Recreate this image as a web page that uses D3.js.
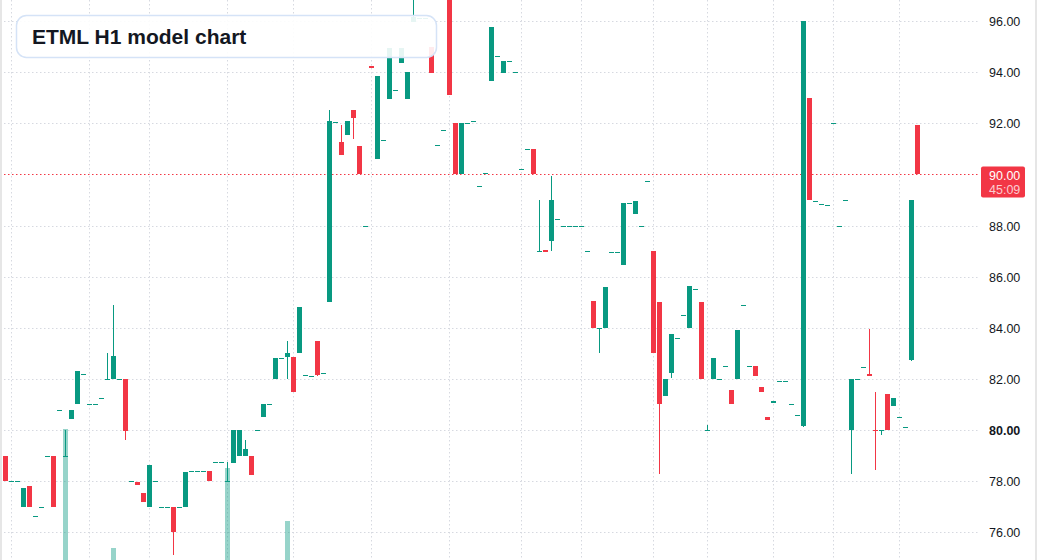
<!DOCTYPE html>
<html>
<head>
<meta charset="utf-8">
<script src="https://cdn.jsdelivr.net/npm/d3@7/dist/d3.min.js"></script>
<style>
  html, body { margin: 0; padding: 0; background: #ffffff; }
  svg { display: block; }
</style>
</head>
<body>
<svg id="chart" width="1037" height="560"></svg>
<script>
// ---------- DATA ----------
const title = "ETML H1 model chart";
const opens  = [79,78,78,77,77.8,76.65,77,79,79,80.8, 79,80.45,81,82.2,81,81,81.25,82,82,82,
  82,78,77.95,77.55,77,78,77,77,77,77, 77,78.4,78.4,78.4,78.4,78.75,78.75,78,78.7,79,
  79,79,80,80.5,81,82,82.8,82.85,82.85,83, 82.15,82.1,83.5,82.25,85,92.05,91.25,91.55,92.5,91.1,
  88,94.25,90.6,91.35,92.95,93.3,94.35,92.95,95.95,96.1, 96.1,95,91.15,91.75,97.2,92,90,92,92.1,89.55,
  90.05,93.65,94.65,93.95,94.45,94,90.2,91,91,87, 87.05,87.4,88.25,88,88,88,88,87,85.05,84,
  84,86.95,86.95,86.45,88.9,88.45,88,89.75,87,85, 81.35,82.25,83.6,84.5,84,85.5,85,80,82,82,
  82.5,81.55,82,84.9,82.5,82.5,81.7,80.5,81.05,81.9, 81.9,81,80.6,80.15,93,88.95,88.85,88.8,92,88,
  89,80,82,82.45,82.2,80,80,81.4,80.95,80.5, 80.1,82.75,91.95];
const highs  = [79,78,78,77.75,77.8,76.65,77,79,79,80.8, 80,80.8,82.3,82.2,81,81,81.25,83,84.9,82,
  82,78,77.95,77.55,78.65,78,77,77,77,77, 78.35,78.4,78.4,78.4,78.4,78.75,78.75,78.75,80,80,
  79.6,79,80,81,81,82.8,82.8,83.5,82.85,84.8, 82.15,82.1,83.5,82.25,92.5,92.05,91.95,92.1,92.5,91.1,
  88,94.25,93.85,91.35,94.95,93.3,94.95,94,97.2,96.1, 96.1,95,91.15,91.75,97.2,92,92,92,92.1,89.55,
  90.05,95.75,94.65,94.45,94.45,94,90.2,91,91,89, 87.05,89.95,88.25,88,88,88,88,87,85.05,84,
  85.6,86.95,86.95,88.9,88.9,88.95,88,89.75,87,85, 82,83.75,83.6,84.5,85.65,85.5,85,80.2,82.8,82,
  82.5,81.55,83.9,84.9,82.5,82.5,81.7,80.5,81.15,81.9, 81.9,81,80.6,96,93,88.95,88.85,88.8,92,88,
  89,82,82,82.45,83.95,81.5,80,81.4,81.25,80.5, 80.1,89,91.95];
const lows   = [78,78,78,77,77,76.65,77,79,77,80.8, 79,80.45,81,82.2,81,81,81.25,82,82,82,
  79.6,78,77.85,77.2,77,78,77,77,75.1,77, 77,78.4,78.4,78.4,78,78.75,78.75,78,78.7,79,
  79,78.25,80,80.5,81,82,82.8,82,81.5,83, 82.15,82.1,82.1,82.25,85,92.05,90.75,91.55,91.4,90,
  88,94.15,90.6,91.35,92.95,93.3,94.35,92.95,95.95,96.1, 96.1,93.95,91.15,91.75,93.1,90,90,92,92.1,89.55,
  90.05,93.65,94.65,93.95,94.45,94,90.2,91,90,87, 86.95,87,88.25,88,88,88,88,87,84,83,
  84,86.95,86.95,86.45,88.9,88.45,88,89.75,83,78.3, 81.35,82.05,83.6,84.5,84,85.5,82,80,82,82,
  82.5,81,82,84.9,82.5,82.1,81.5,80.4,81.05,81.9, 81.9,81,80.6,80.1,89,88.95,88.85,88.8,92,88,
  89,78.3,82,82.45,82.1,78.45,79.8,80,80.95,80.5, 80.1,82.7,90];
const closes = [78,78,78,77.75,77,76.65,77,79,77,80.8, 79,80.8,82.3,82.2,81,81,81.25,82,82.9,82,
  79.95,78,77.85,77.2,78.65,78,77,77,76,77, 78.35,78.4,78.4,78.4,78,78.75,78.75,78,80,80,
  79.25,78.25,80,81,81,82.8,82.8,83,81.5,84.8, 82.15,82.1,82.15,82.25,92.1,92.05,90.75,92.1,92.2,90,
  88,94.15,93.85,91.35,94.95,93.3,94.95,94,96.15,96.1, 96.1,93.95,91.15,91.75,93.1,90,92,92,92.1,89.55,
  90.05,95.75,94.65,94.45,94.45,94,90.2,91,90,87, 86.95,89,88.25,88,88,88,88,87,84,84,
  85.6,86.95,86.95,88.9,88.9,88.95,88,89.75,83,81, 82,83.75,83.6,84.5,85.65,85.5,82,80,82.8,82,
  82.5,81,83.9,84.9,82.5,82.1,81.5,80.4,81.15,81.9, 81.9,81,80.6,96,89,88.95,88.85,88.8,92,88,
  89,82,82,82.45,82.1,79.95,80,80,81.25,80.5, 80.1,89,90];
// volume only large enough to be visible on a few bars: [bar index, volume]
const volumes = [[10, 13100], [18, 1200], [37, 9200], [47, 3900]];
// time-boundary bars where vertical grid lines fall
const timeGridBars = [1,14,24,37,48,61,74,86,96,108,117,128,138,149];
const priceTicks = [76,78,80,82,84,86,88,90,92,94,96];
const lastPrice = 90.00;
const countdown = "45:09";

// ---------- STYLE ----------
const UP = "#089981", DOWN = "#f23645";
const W = 1037, H = 560, plotRight = 980;

const svg = d3.select("#chart");
const n = opens.length;
const x = d3.scaleLinear().domain([0, n - 1]).range([5.5, 5.5 + 6 * (n - 1)]);
const y = d3.scaleLinear().domain([76, 96]).range([532.3, 21]);
const yVol = d3.scaleLinear().domain([0, 20000]).range([H, H - 200]);
const crisp = v => Math.round(v) + 0.5;

svg.append("rect").attr("width", W).attr("height", H).attr("fill", "#fff");

// grid
const grid = svg.append("g").attr("stroke", "#d6d9e0").attr("stroke-width", 1).attr("stroke-dasharray", "1.5,2.5");
grid.selectAll("line.h").data(priceTicks.filter(v => v !== lastPrice)).join("line")
  .attr("x1", 0).attr("x2", plotRight)
  .attr("y1", d => crisp(y(d))).attr("y2", d => crisp(y(d)));
grid.selectAll("line.v").data(timeGridBars).join("line")
  .attr("x1", d => x(d)).attr("x2", d => x(d))
  .attr("y1", 0).attr("y2", H);

// volume
svg.append("g").selectAll("rect").data(volumes).join("rect")
  .attr("x", d => x(d[0]) - 2.5).attr("width", 5)
  .attr("y", d => yVol(d[1])).attr("height", d => H - yVol(d[1]))
  .attr("fill", UP).attr("fill-opacity", 0.42);

// last price line
svg.append("line")
  .attr("x1", 0).attr("x2", plotRight)
  .attr("y1", crisp(y(lastPrice))).attr("y2", crisp(y(lastPrice)))
  .attr("stroke", DOWN).attr("stroke-width", 1).attr("stroke-dasharray", "1.5,2.5");

// candles
const idx = d3.range(n);
const color = i => closes[i] >= opens[i] ? UP : DOWN;
const cg = svg.append("g");
cg.selectAll("rect.wick").data(idx).join("rect")
  .attr("class", "wick")
  .attr("x", i => x(i) - 0.5).attr("width", 1)
  .attr("y", i => Math.round(y(highs[i])))
  .attr("height", i => Math.max(0, Math.round(y(lows[i])) - Math.round(y(highs[i]))))
  .attr("fill", color);
cg.selectAll("rect.body").data(idx).join("rect")
  .attr("class", "body")
  .attr("x", i => x(i) - 2.5).attr("width", 5)
  .attr("y", i => Math.round(y(Math.max(opens[i], closes[i]))))
  .attr("height", i => Math.max(1, Math.round(y(Math.min(opens[i], closes[i]))) - Math.round(y(Math.max(opens[i], closes[i])))))
  .attr("fill", color);

// price axis
const axis = svg.append("g").attr("transform", "translate(989,0)")
  .call(d3.axisRight(y).tickValues(priceTicks.filter(v => v !== lastPrice)).tickSize(0).tickPadding(0).tickFormat(d => d.toFixed(2)));
axis.select(".domain").remove();
axis.selectAll("text")
  .attr("fill", "#131722").attr("font-family", "'Liberation Sans', Arial, sans-serif").attr("font-size", 12.5)
  .attr("text-anchor", "start").attr("dy", "0.36em")
  .attr("font-weight", d => d === 80 ? "bold" : "normal");

// last price label
const lp = svg.append("g");
lp.append("rect").attr("x", 981).attr("y", crisp(y(lastPrice)) - 8).attr("width", 44).attr("height", 31).attr("rx", 2).attr("fill", DOWN);
lp.append("text").attr("x", 989).attr("y", y(lastPrice) + 1).attr("dy", "0.36em")
  .attr("fill", "#fff").attr("font-family", "'Liberation Sans', Arial, sans-serif").attr("font-size", 12.5)
  .text(lastPrice.toFixed(2));
lp.append("text").attr("x", 989).attr("y", y(lastPrice) + 15.5).attr("dy", "0.36em")
  .attr("fill", "#fff").attr("fill-opacity", 0.75).attr("font-family", "'Liberation Sans', Arial, sans-serif").attr("font-size", 12.5)
  .text(countdown);

// title box
svg.append("rect").attr("x", 16.5).attr("y", 15.5).attr("width", 420).attr("height", 42).attr("rx", 10)
  .attr("fill", "#ffffff").attr("fill-opacity", 0.9).attr("stroke", "#d5e3f7").attr("stroke-width", 1.5);
svg.append("text").attr("x", 32).attr("y", 44.3)
  .attr("font-family", "'Liberation Sans', Arial, sans-serif").attr("font-weight", "bold").attr("font-size", 21)
  .attr("fill", "#131722").text(title);

// side borders
svg.append("rect").attr("x", 0).attr("y", 0).attr("width", 2).attr("height", H).attr("fill", "#e6e6e6");
svg.append("rect").attr("x", W - 2).attr("y", 0).attr("width", 2).attr("height", H).attr("fill", "#e6e6e6");
</script>
</body>
</html>
